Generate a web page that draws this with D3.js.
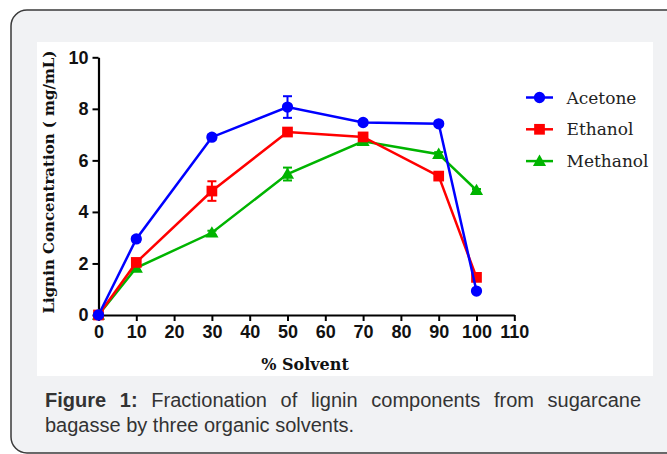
<!DOCTYPE html>
<html>
<head>
<meta charset="utf-8">
<script src="https://cdn.jsdelivr.net/npm/d3@7"></script>
<style>
  body { margin: 0; background: #ffffff; }
  #wrap { position: relative; width: 667px; height: 454px; overflow: hidden; }
  #caption {
    position: absolute; left: 45px; top: 388px; width: 596px;
    font-family: "Liberation Sans", Arial, sans-serif; font-size: 20px;
    line-height: 25px; color: #333; text-align: justify;
  }
</style>
</head>
<body>
<div id="wrap">
  <svg id="chart" width="667" height="454"></svg>
  <div id="caption"></div>
</div>
<script>
const solvent = [0, 10, 30, 50, 70, 90, 100];
const acetone = [0, 2.95, 6.9, 8.07, 7.47, 7.42, 0.93];
const ethanol = [0, 2.04, 4.81, 7.1, 6.91, 5.39, 1.46];
const methanol = [0, 1.83, 3.19, 5.47, 6.74, 6.24, 4.84];
const acetoneErr = [0, 0.1, 0.1, 0.42, 0.08, 0.08, 0.05];
const ethanolErr = [0, 0.1, 0.38, 0.1, 0.08, 0.1, 0.1];
const methanolErr = [0, 0.08, 0.08, 0.25, 0.1, 0.08, 0.05];
const xTicks = [0, 10, 20, 30, 40, 50, 60, 70, 80, 90, 100, 110];
const yTicks = [0, 2, 4, 6, 8, 10];

const series = [
  { name: "Methanol", values: methanol, err: methanolErr, color: "#00b400", shape: "triangle" },
  { name: "Ethanol", values: ethanol, err: ethanolErr, color: "#ff0000", shape: "square" },
  { name: "Acetone", values: acetone, err: acetoneErr, color: "#0000ff", shape: "circle" },
];
const legendOrder = ["Acetone", "Ethanol", "Methanol"];

const svg = d3.select("#chart");

// card + white plot panel
svg.append("rect")
  .attr("x", 11).attr("y", 10).attr("width", 720).attr("height", 443)
  .attr("rx", 16)
  .attr("fill", "#f1f2f4").attr("stroke", "#3a3a3a").attr("stroke-width", 1.5);
svg.append("rect")
  .attr("x", 37).attr("y", 42).attr("width", 616).attr("height", 334)
  .attr("fill", "#ffffff");

const xScale = d3.scaleLinear().domain([0, 110]).range([98.5, 514.3]);
const yScale = d3.scaleLinear().domain([0, 10]).range([315, 57.3]);

const chart = svg.append("g");

// axes
const xAxis = d3.axisBottom(xScale).tickValues(xTicks).tickSize(6).tickSizeOuter(0).tickPadding(4);
const yAxis = d3.axisLeft(yScale).tickValues(yTicks).tickSize(6).tickSizeOuter(0).tickPadding(4);

const gx = chart.append("g").attr("transform", "translate(0,315)").call(xAxis);
const gy = chart.append("g").attr("transform", "translate(98.5,0)").call(yAxis);
[gx, gy].forEach((g) => {
  g.select(".domain").attr("stroke", "#000").attr("stroke-width", 2.2);
  g.selectAll(".tick line").attr("stroke", "#000").attr("stroke-width", 2);
  g.selectAll(".tick text")
    .attr("fill", "#111")
    .style("font-family", "'Liberation Sans', Arial, sans-serif")
    .style("font-weight", "bold")
    .style("font-size", "18px");
});

// axis titles
chart.append("text")
  .attr("x", 305).attr("y", 369.5)
  .attr("text-anchor", "middle")
  .style("font-family", "'DejaVu Serif', serif").style("font-weight", "bold").style("font-size", "16px")
  .attr("fill", "#111")
  .text("% Solvent");
chart.append("text")
  .attr("transform", "translate(54,182) rotate(-90)")
  .attr("text-anchor", "middle")
  .style("font-family", "'DejaVu Serif', serif").style("font-weight", "bold").style("font-size", "15px")
  .attr("fill", "#111")
  .text("Lignin Concentration ( mg/mL)");

const symbolFor = (shape) =>
  shape === "circle" ? d3.symbol(d3.symbolCircle, 100)
  : shape === "square" ? d3.symbol(d3.symbolSquare, 115)
  : d3.symbol(d3.symbolTriangle, 75);

const line = d3.line()
  .x((d) => xScale(d.x))
  .y((d) => yScale(d.y));

series.forEach((s) => {
  const pts = solvent.map((x, i) => ({ x: x, y: s.values[i], e: s.err[i] }));
  const g = chart.append("g");
  g.append("path")
    .attr("d", line(pts))
    .attr("fill", "none")
    .attr("stroke", s.color)
    .attr("stroke-width", 2.5);
  // error bars
  const eb = g.selectAll("g.err").data(pts.filter((d) => d.e > 0)).enter().append("g");
  eb.append("line")
    .attr("x1", (d) => xScale(d.x)).attr("x2", (d) => xScale(d.x))
    .attr("y1", (d) => yScale(d.y - d.e)).attr("y2", (d) => yScale(d.y + d.e))
    .attr("stroke", s.color).attr("stroke-width", 2);
  [-1, 1].forEach((sgn) => {
    eb.append("line")
      .attr("x1", (d) => xScale(d.x) - 4.5).attr("x2", (d) => xScale(d.x) + 4.5)
      .attr("y1", (d) => yScale(d.y + sgn * d.e)).attr("y2", (d) => yScale(d.y + sgn * d.e))
      .attr("stroke", s.color).attr("stroke-width", 2);
  });
  g.selectAll("path.pt").data(pts).enter().append("path")
    .attr("class", "pt")
    .attr("d", symbolFor(s.shape))
    .attr("transform", (d) => `translate(${xScale(d.x)},${yScale(d.y) + (s.shape === "triangle" ? 1 : 0)})`)
    .attr("fill", s.color);
});

// legend
const legend = chart.append("g");
legendOrder.forEach((name, i) => {
  const s = series.find((d) => d.name === name);
  const y = 97.5 + i * 31.8;
  legend.append("line")
    .attr("x1", 526).attr("x2", 553).attr("y1", y).attr("y2", y)
    .attr("stroke", s.color).attr("stroke-width", 2.5);
  legend.append("path")
    .attr("d", symbolFor(s.shape))
    .attr("transform", `translate(539.5,${y + (s.shape === "triangle" ? 1 : 0)})`)
    .attr("fill", s.color);
  legend.append("text")
    .attr("x", 566.5).attr("y", y + 6)
    .style("font-family", "'DejaVu Serif', serif").style("font-size", "17px")
    .attr("fill", "#222")
    .text(name);
});

// caption
d3.select("#caption").html("<b>Figure 1:</b> Fractionation of lignin components from sugarcane bagasse by three organic solvents.");
</script>
</body>
</html>
